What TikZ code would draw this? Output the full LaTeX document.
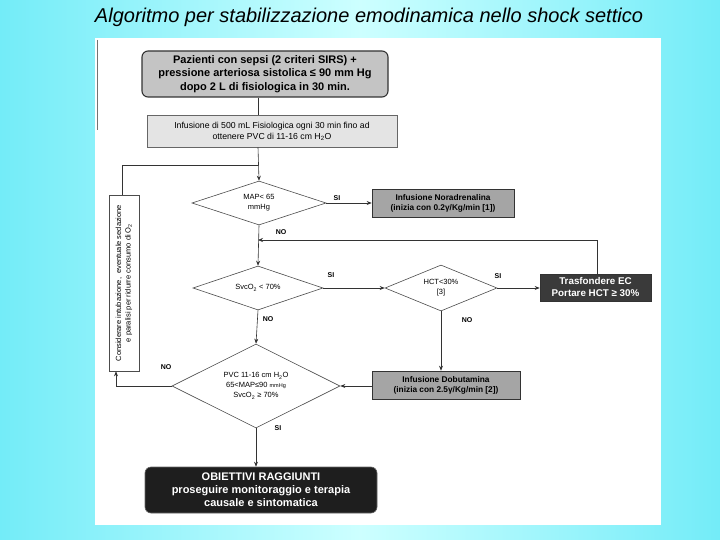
\documentclass[tikz,border=0pt]{standalone}
\usepackage{fontspec}
\setmainfont{Liberation Sans}
\usetikzlibrary{shapes.geometric,arrows.meta}
\definecolor{bgcyan}{RGB}{115,236,248}
\definecolor{bglight}{RGB}{205,255,255}
\definecolor{boxgray}{RGB}{196,196,196}
\definecolor{lightbox}{RGB}{228,228,228}
\definecolor{midgray}{RGB}{165,165,165}
\definecolor{darkbox}{RGB}{58,58,58}
\definecolor{blackbox}{RGB}{30,30,30}
\begin{document}
\begin{tikzpicture}[x=1pt,y=-1pt,
  conn/.style={draw=black!80, line width=0.6pt},
  arr/.style={conn,-{Stealth[length=5pt,width=4pt]}},
  dia/.style={diamond, draw=black!70, fill=white, line width=0.6pt, inner sep=0pt, aspect=2, align=center, font=\fontsize{7.5}{10}\selectfont},
  sqbox/.style={rectangle, draw=black!80, line width=0.6pt, align=center, inner sep=1pt},
  lbl/.style={font=\fontsize{7}{8}\selectfont\bfseries, inner sep=1pt}]
\useasboundingbox (0,0) rectangle (720,540);
\shade[left color=bgcyan, right color=bgcyan, middle color=bglight] (0,0) rectangle (720,540);
\fill[white] (95,38) rectangle (661,525);
\draw[black!55, line width=0.8pt] (97,40) -- (97,130);

\node[font=\fontsize{20}{22}\selectfont\itshape] (title) at (369,17) {Algoritmo per stabilizzazione emodinamica nello shock settico};

\coordinate (ax) at (258,0);
\coordinate (bx) at (441,0);

\node[sqbox, rounded corners=6pt, fill=boxgray, line width=1.1pt, minimum width=246pt, minimum height=46pt,
  font=\fontsize{11}{13.5}\selectfont\bfseries] (n1) at (265,74)
  {Pazienti con sepsi (2 criteri SIRS) +\\ pressione arteriosa sistolica ≤ 90 mm Hg\\ dopo 2 L di fisiologica in 30 min.};

\node[sqbox, fill=lightbox, draw=black!60, minimum width=250pt, minimum height=32pt,
  font=\fontsize{8.7}{11}\selectfont] (n2) at (272,131)
  {Infusione di 500 mL Fisiologica ogni 30 min fino ad\\ ottenere PVC di 11-16 cm H\textsubscript{2}O};

\node[dia, minimum width=134pt, minimum height=44pt] (d1) at (259,203) {MAP< 65\\ mmHg};

\node[sqbox, fill=midgray, minimum width=142pt, minimum height=28pt,
  font=\fontsize{8.3}{10}\selectfont\bfseries] (nor) at (443,203)
  {Infusione Noradrenalina\\ (inizia con 0.2γ/Kg/min [1])};

\node[dia, minimum width=130pt, minimum height=44pt] (d2) at (258,288) {SvcO\textsubscript{2} < 70\%};
\node[dia, minimum width=112pt, minimum height=46pt] (d3) at (441,288) {HCT<30\%\\ {[3]}};

\node[sqbox, fill=darkbox, text=white, minimum width=111pt, minimum height=27pt,
  font=\fontsize{9.8}{12}\selectfont\bfseries] (tr) at (595.5,287.5)
  {Trasfondere EC\\ Portare HCT ≥ 30\%};

\node[dia, minimum width=168pt, minimum height=84pt] (d4) at (256,386)
  {PVC 11-16 cm H\textsubscript{2}O\\ 65<MAP≤90 {\fontsize{5.5}{6}\selectfont mmHg}\\ SvcO\textsubscript{2} ≥ 70\%};

\node[sqbox, fill=midgray, minimum width=148pt, minimum height=28pt,
  font=\fontsize{8.3}{10}\selectfont\bfseries] (dob) at (446,385)
  {Infusione Dobutamina\\ (inizia con 2.5γ/Kg/min [2])};

\node[sqbox, rounded corners=6pt, fill=blackbox, text=white, draw=black!60, minimum width=232pt, minimum height=46pt,
  font=\fontsize{11}{13}\selectfont\bfseries] (fin) at (261,490)
  {OBIETTIVI RAGGIUNTI\\ proseguire monitoraggio e terapia\\ causale e sintomatica};

\node[sqbox, draw=black!70, fill=white, minimum width=176pt, minimum height=30pt, rotate=90,
  font=\fontsize{7.5}{9.5}\selectfont] (lb) at (124,283)
  {Considerare intubazione,\ \ eventuale sedazione\\ e paralisi per ridurre consumo di O\textsubscript{2}};

% connectors
\draw[conn] (n1.south -| ax) -- (n2.north -| ax);
\draw[arr] (n2.south -| ax) -- (d1.north);
\coordinate (jtop) at (258,165);
\draw[conn] (lb.east -| 122,0) -- (122,165) -- (jtop);
\draw[arr] (d1.east) -- (nor.west |- d1.east);
\draw[arr] (d1.south) -- (d2.north);
\coordinate (jmid) at (258,240);
\draw[arr] (tr.north -| 597,0) -- (597,240) -- (jmid);
\draw[arr] (d2.east) -- (d3.west);
\draw[arr] (d3.east) -- (tr.west |- d3.east);
\draw[arr] (d2.south) -- (d4.north);
\draw[arr] (d3.south) -- (dob.north -| bx);
\draw[arr] (dob.west |- d4.east) -- (d4.east);
\draw[arr] (d4.west) -- (116,386) -- (lb.west -| 116,0);
\draw[arr] (d4.south) -- (fin.north -| d4.south);

% labels
\node[lbl] (l1) at (337,198) {SI};
\node[lbl] (l2) at (281,232) {NO};
\node[lbl] (l3) at (331,275) {SI};
\node[lbl] (l4) at (268,319) {NO};
\node[lbl] (l5) at (498,276) {SI};
\node[lbl] (l6) at (467,320) {NO};
\node[lbl] (l7) at (166,367) {NO};
\node[lbl] (l8) at (278,428) {SI};
\end{tikzpicture}
\end{document}
